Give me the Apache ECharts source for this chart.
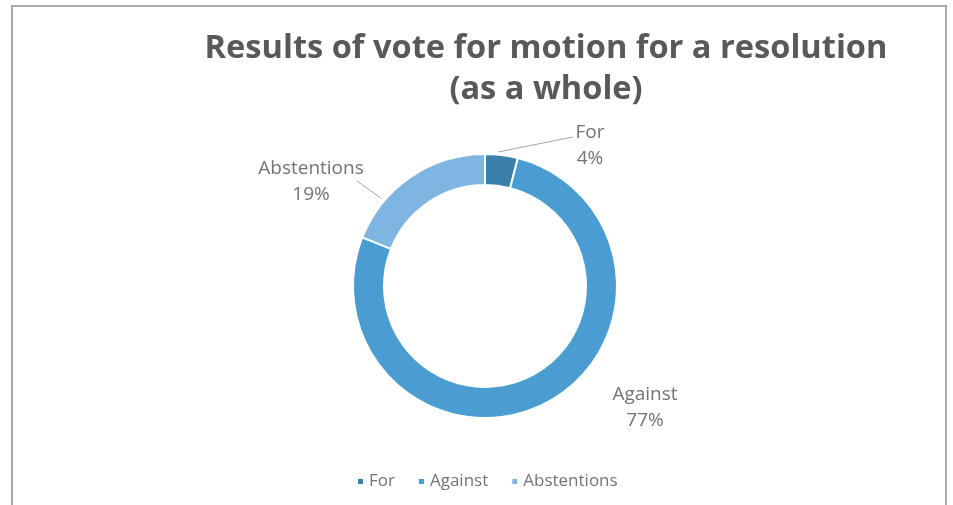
<!DOCTYPE html>
<html>
<head>
<meta charset="utf-8">
<style>
html,body{margin:0;padding:0;background:#fff;}
#chart{width:953px;height:505px;}
</style>
<script src="https://cdn.jsdelivr.net/npm/echarts@6/dist/echarts.min.js"></script>
</head>
<body>
<div id="chart"></div>
<script>
const categories = ['For', 'Against', 'Abstentions'];
const values = [4, 77, 19];
const colors = ['#3B7FAB', '#4A9CD1', '#7EB5E1'];
const titleText = 'Results of vote for motion for a resolution\n(as a whole)';

const chart = echarts.init(document.getElementById('chart'));
const labelPos = [
  { x: 590, y: 146, line: [[498, 152], [573, 137]] },
  { x: 645, y: 408, line: null },
  { x: 311, y: 182, line: [[382, 199], [357, 181]] }
];
const option = {
  animation: false,
  graphic: [{
    type: 'rect',
    shape: { x: 12, y: 6, width: 934, height: 520 },
    style: { fill: 'none', stroke: '#A9A9A9', lineWidth: 2 },
    silent: true, z: -1
  }],
  title: {
    text: titleText,
    left: 541, top: 23, textAlign: 'center',
    textStyle: {
      fontFamily: 'Open Sans', fontWeight: 'bold', fontSize: 32.6,
      color: '#595959', lineHeight: 41
    }
  },
  legend: {
    bottom: 10, left: 351,
    itemWidth: 7, itemHeight: 7, itemGap: 22, icon: 'rect',
    textStyle: { fontFamily: 'Open Sans', fontSize: 17, color: '#737373' },
    data: categories
  },
  series: [{
    type: 'pie',
    center: [485, 286],
    radius: [101, 132],
    startAngle: 90,
    clockwise: true,
    itemStyle: { borderColor: '#fff', borderWidth: 2 },
    label: {
      show: true,
      formatter: '{b}\n{d}%',
      fontFamily: 'Open Sans', fontSize: 19, color: '#737373', lineHeight: 26,
      align: 'center'
    },
    labelLine: { show: true, lineStyle: { color: '#A6A6A6', width: 1 } },
    labelLayout: function (p) {
      const pos = labelPos[p.dataIndex];
      const o = { x: pos.x, y: pos.y, align: 'center', verticalAlign: 'middle' };
      if (pos.line) o.labelLinePoints = pos.line;
      return o;
    },
    data: categories.map((c, i) => ({
      name: c, value: values[i], itemStyle: { color: colors[i] },
      labelLine: { show: i !== 1 }
    }))
  }]
};
chart.setOption(option);
</script>
</body>
</html>
